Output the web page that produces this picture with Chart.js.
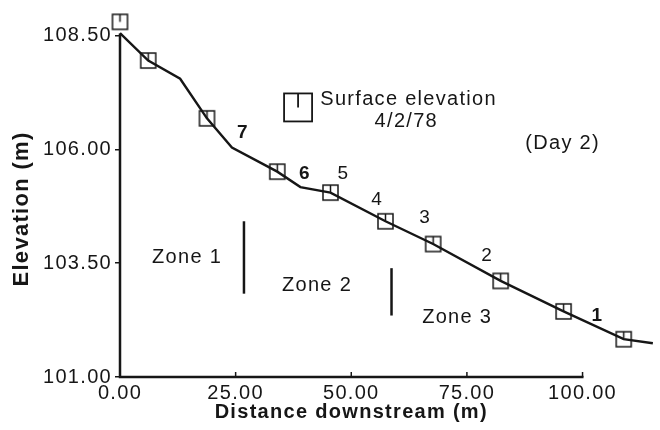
<!DOCTYPE html>
<html>
<head>
<meta charset="utf-8">
<script src="https://cdn.jsdelivr.net/npm/chart.js@4.4.1/dist/chart.umd.min.js"></script>
<style>
  html, body { margin: 0; padding: 0; background: #fff; }
  #wrap { width: 660px; height: 430px; }
</style>
</head>
<body>
<div id="wrap"><canvas id="chart"></canvas></div>
<script>
// channel profile, day 2 (4/2/78)
const profileX = [0, 6.1, 13.0, 18.8, 24.2, 34.0, 39.0, 45.5, 57.4, 67.7, 82.3, 95.9, 108.9, 115.2];
const profileY = [108.55, 107.95, 107.55, 106.68, 106.04, 105.51, 105.17, 105.05, 104.42, 103.92, 103.11, 102.44, 101.83, 101.74];

// surface elevation survey points
const markerX = [0, 6.1, 18.8, 34.0, 45.5, 57.4, 67.7, 82.3, 95.9, 108.9];
const markerY = [108.80, 107.95, 106.68, 105.51, 105.05, 104.42, 103.92, 103.11, 102.44, 101.83];

const xTicks = [0, 25, 50, 75, 100];
const yTicks = [101, 103.5, 106, 108.5];

const stationNames = ['7', '6', '5', '4', '3', '2', '1'];
const zoneNames = ['Zone 1', 'Zone 2', 'Zone 3'];
const zoneBounds = [26.8, 58.7]; // distance (m) of zone boundaries

const INK = '#161616';
const FONT = '"Liberation Sans", Arial, Helvetica, sans-serif';

// text placed in data units (x m, y m)
const notes = [
  { text: stationNames[0], x: 26.6, y: 106.36, bold: true },
  { text: stationNames[1], x: 40.0, y: 105.47, bold: true },
  { text: stationNames[2], x: 48.3, y: 105.47 },
  { text: stationNames[3], x: 55.6, y: 104.90 },
  { text: stationNames[4], x: 66.0, y: 104.49 },
  { text: stationNames[5], x: 79.4, y: 103.66 },
  { text: stationNames[6], x: 103.2, y: 102.35, bold: true },
  { text: zoneNames[0], x: 14.5, y: 103.63, size: 20 },
  { text: zoneNames[1], x: 42.6, y: 103.00, size: 20 },
  { text: zoneNames[2], x: 72.9, y: 102.31, size: 20 },
  { text: '(Day 2)', x: 95.7, y: 106.12, size: 20 },
  { text: 'Surface elevation', x: 43.3, y: 107.10, size: 20, align: 'left' },
  { text: '4/2/78', x: 61.9, y: 106.62, size: 20 }
];
const zoneLines = [
  { x: zoneBounds[0], y0: 104.42, y1: 102.83 },
  { x: zoneBounds[1], y0: 103.39, y1: 102.35 }
];
const legendAt = { x: 38.5, y: 106.92 };

function drawMarker(ctx, cx, cy, size, lw) {
  const h = size / 2;
  ctx.save();
  ctx.strokeStyle = INK;
  ctx.lineWidth = lw;
  ctx.strokeRect(cx - h, cy - h, size, size);
  ctx.beginPath();
  ctx.moveTo(cx, cy - h);
  ctx.lineTo(cx, cy);
  ctx.stroke();
  ctx.restore();
}

function markerCanvas(size) {
  const c = document.createElement('canvas');
  c.width = c.height = size + 4;
  drawMarker(c.getContext('2d'), (size + 4) / 2, (size + 4) / 2, size, 1.5);
  return c;
}

const decor = {
  id: 'decor',
  beforeDraw(chart) {
    chart.ctx.letterSpacing = '1.3px';
  },
  afterDraw(chart) {
    const { ctx, scales: { x, y } } = chart;
    const x0 = x.getPixelForValue(xTicks[0]);
    const x1 = x.getPixelForValue(xTicks[xTicks.length - 1]);
    const y0 = y.getPixelForValue(yTicks[0]);
    const y1 = y.getPixelForValue(yTicks[yTicks.length - 1]);
    ctx.save();
    ctx.strokeStyle = INK;
    ctx.fillStyle = INK;

    // axes stop at the last tick, the data run past them
    ctx.lineWidth = 2.5;
    ctx.beginPath();
    ctx.moveTo(x0, y1 - 2);
    ctx.lineTo(x0, y0);
    ctx.lineTo(x1 + 1, y0);
    ctx.stroke();

    // x tick marks point up into the plot
    ctx.lineWidth = 1.5;
    xTicks.slice(1).forEach(v => {
      const px = x.getPixelForValue(v);
      ctx.beginPath();
      ctx.moveTo(px, y0);
      ctx.lineTo(px, y0 - 5);
      ctx.stroke();
    });

    // zone boundaries
    ctx.lineWidth = 2.5;
    zoneLines.forEach(z => {
      const px = x.getPixelForValue(z.x);
      ctx.beginPath();
      ctx.moveTo(px, y.getPixelForValue(z.y0));
      ctx.lineTo(px, y.getPixelForValue(z.y1));
      ctx.stroke();
    });

    // legend symbol
    drawMarker(ctx, x.getPixelForValue(legendAt.x), y.getPixelForValue(legendAt.y), 28, 1.8);

    // labels
    ctx.textBaseline = 'middle';
    notes.forEach(n => {
      ctx.font = (n.bold ? 'bold ' : '') + (n.size || 19) + 'px ' + FONT;
      ctx.textAlign = n.align || 'center';
      ctx.fillText(n.text, x.getPixelForValue(n.x), y.getPixelForValue(n.y));
    });

    // axis titles, centred on the ticked part of each axis
    ctx.textAlign = 'center';
    ctx.font = 'bold 20px ' + FONT;
    ctx.fillText('Distance downstream (m)', (x0 + x1) / 2, 412);
    ctx.translate(22, 209);
    ctx.rotate(-Math.PI / 2);
    ctx.font = 'bold 22px ' + FONT;
    ctx.fillText('Elevation (m)', 0, 0);
    ctx.restore();
  }
};

const chart = new Chart(document.getElementById('chart'), {
  type: 'scatter',
  data: {
    datasets: [
      {
        label: 'Profile',
        data: profileX.map((v, i) => ({ x: v, y: profileY[i] })),
        showLine: true,
        borderColor: INK,
        borderWidth: 2.4,
        pointRadius: 0,
        tension: 0,
        clip: false
      },
      {
        label: 'Surface elevation 4/2/78',
        data: markerX.map((v, i) => ({ x: v, y: markerY[i] })),
        showLine: false,
        pointStyle: markerCanvas(15),
        pointRadius: 8,
        clip: false
      }
    ]
  },
  options: {
    responsive: true,
    maintainAspectRatio: false,
    animation: false,
    events: [],
    layout: { padding: { top: 11, right: 4, left: 0, bottom: 5 } },
    plugins: {
      legend: { display: false },
      tooltip: { enabled: false }
    },
    scales: {
      x: {
        type: 'linear',
        min: 0,
        max: 114.8,
        afterBuildTicks: s => { s.ticks = xTicks.map(v => ({ value: v })); },
        afterFit: s => { s.height = 48; },
        grid: { display: false },
        border: { display: false },
        ticks: {
          color: INK,
          padding: -4,
          maxRotation: 0,
          font: { family: FONT, size: 20 },
          callback: v => v.toFixed(2)
        },
        title: { display: false }
      },
      y: {
        type: 'linear',
        min: 101,
        max: 108.95,
        afterBuildTicks: s => { s.ticks = yTicks.map(v => ({ value: v })); },
        afterFit: s => { s.width = 120; },
        grid: { drawOnChartArea: false, drawTicks: true, tickLength: 5, color: INK, lineWidth: 1.5 },
        border: { display: false },
        ticks: {
          color: INK,
          padding: 3,
          font: { family: FONT, size: 20 },
          callback: v => v.toFixed(2)
        },
        title: { display: false }
      }
    }
  },
  plugins: [decor]
});
</script>
</body>
</html>
